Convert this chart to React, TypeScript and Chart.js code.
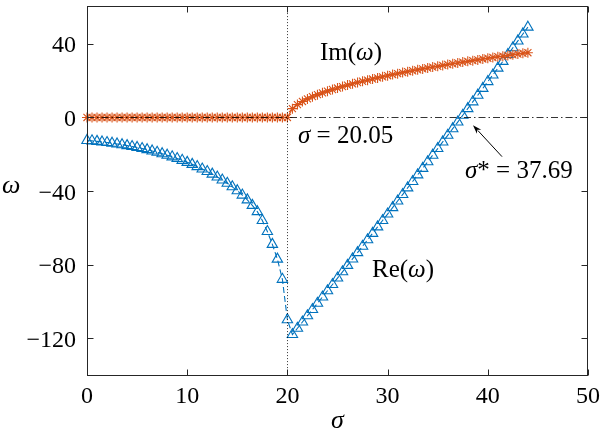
import React, { useEffect, useRef } from "react";
import { Chart, registerables } from "chart.js";

Chart.register(...registerables);

// ---- data ----
const SIGMA = [
  0, 0.5, 1, 1.5, 2, 2.5, 3, 3.5, 4, 4.5, 5, 5.5, 6, 6.5, 7, 7.5, 8, 8.5, 9, 9.5,
  10, 10.5, 11, 11.5, 12, 12.5, 13, 13.5, 14, 14.5, 15, 15.5, 16, 16.5, 17, 17.5, 18, 18.5, 19, 19.5,
  20, 20.5, 21, 21.5, 22, 22.5, 23, 23.5, 24, 24.5, 25, 25.5, 26, 26.5, 27, 27.5, 28, 28.5, 29, 29.5,
  30, 30.5, 31, 31.5, 32, 32.5, 33, 33.5, 34, 34.5, 35, 35.5, 36, 36.5, 37, 37.5, 38, 38.5, 39, 39.5,
  40, 40.5, 41, 41.5, 42, 42.5, 43, 43.5, 44,
];

const RE = [
  -12.5, -12.7, -13.0, -13.3, -13.6, -14.0, -14.4, -14.8, -15.3, -15.8,
  -16.3, -16.9, -17.5, -18.2, -18.9, -19.7, -20.5, -21.4, -22.3, -23.3,
  -24.4, -25.5, -26.7, -28.0, -29.4, -30.8, -32.4, -34.0, -35.8, -37.7,
  -39.8, -42.2, -44.8, -47.8, -51.2, -56.0, -62.0, -69.0, -77.0, -88.0,
  -110.0,
  -118.0, -114.6, -111.2, -107.8, -104.4, -101.0, -97.6, -94.2, -90.8, -87.3,
  -83.9, -80.4, -76.9, -73.5, -70.0, -66.5, -63.0, -59.5, -56.0, -52.5,
  -49.0, -45.4, -41.9, -38.3, -34.8, -31.2, -27.7, -24.1, -20.5, -16.9,
  -13.3, -9.7, -6.1, -2.5, 1.2, 4.8, 8.5, 12.1, 15.8, 19.5,
  23.1, 26.8, 30.5, 34.2, 37.9, 41.6, 45.4, 49.1,
];

const IM = [
  0, 0, 0, 0, 0, 0, 0, 0, 0, 0,
  0, 0, 0, 0, 0, 0, 0, 0, 0, 0,
  0, 0, 0, 0, 0, 0, 0, 0, 0, 0,
  0, 0, 0, 0, 0, 0, 0, 0, 0, 0,
  0,
  4.8, 7.0, 8.7, 10.1, 11.3, 12.4, 13.4, 14.3, 15.2, 16.0,
  16.8, 17.6, 18.3, 19.0, 19.7, 20.3, 20.9, 21.5, 22.1, 22.7,
  23.3, 23.8, 24.4, 24.9, 25.4, 25.9, 26.4, 26.9, 27.4, 27.8,
  28.3, 28.8, 29.2, 29.6, 30.1, 30.5, 30.9, 31.3, 31.8, 32.2,
  32.6, 33.0, 33.3, 33.7, 34.1, 34.5, 34.9, 35.2,
];

const X_TICKS = [0, 10, 20, 30, 40, 50];
const Y_TICKS = [-120, -80, -40, 0, 40];
const SIGMA_C = 20.05;
const SIGMA_STAR = 37.69;

// ---- styles ----
const BLUE = "#0072BD";
const ORANGE = "#D95319";
const AXIS = "#262626";
const FONT = '"Liberation Serif", "Times New Roman", serif';

type Run = [string, boolean];

function drawRuns(ctx: CanvasRenderingContext2D, runs: Run[], x: number, y: number, size: number, align = "left") {
  let total = 0;
  for (const [t, it] of runs) {
    ctx.font = `${it ? "italic " : ""}${size}px ${FONT}`;
    total += ctx.measureText(t).width;
  }
  let cx = align === "center" ? x - total / 2 : align === "right" ? x - total : x;
  ctx.textAlign = "left";
  ctx.textBaseline = "alphabetic";
  for (const [t, it] of runs) {
    ctx.font = `${it ? "italic " : ""}${size}px ${FONT}`;
    ctx.fillText(t, cx, y);
    cx += ctx.measureText(t).width;
  }
}

const fmt = (v: number) => (v < 0 ? "\u2212" + Math.abs(v) : String(v));

const decorPlugin = {
  id: "decor",
  afterDatasetsDraw(chart: any) {
    const ctx: CanvasRenderingContext2D = chart.ctx;
    const xs = chart.scales.x;
    const ys = chart.scales.y;
    const a = chart.chartArea;
    ctx.save();
    ctx.strokeStyle = "#000";
    ctx.lineWidth = 0.8;
    ctx.setLineDash([7, 3, 1.5, 3]);
    const y0 = Math.round(ys.getPixelForValue(0)) + 0.5;
    ctx.beginPath();
    ctx.moveTo(a.left, y0);
    ctx.lineTo(a.right, y0);
    ctx.stroke();
    ctx.setLineDash([1, 2]);
    const xc = Math.round(xs.getPixelForValue(SIGMA_C)) - 0.5;
    ctx.beginPath();
    ctx.moveTo(xc, a.top);
    ctx.lineTo(xc, a.bottom);
    ctx.stroke();
    ctx.restore();
  },
  afterDraw(chart: any) {
    const ctx: CanvasRenderingContext2D = chart.ctx;
    const xs = chart.scales.x;
    const ys = chart.scales.y;
    const a = chart.chartArea;
    const L = Math.round(a.left) + 0.5;
    const R = Math.round(a.right) - 0.5;
    const T = Math.round(a.top) - 0.5;
    const B = Math.round(a.bottom) + 0.5;
    ctx.save();
    ctx.strokeStyle = AXIS;
    ctx.lineWidth = 1;
    ctx.setLineDash([]);
    ctx.strokeRect(L, T, R - L, B - T);
    const TL = 6;
    ctx.beginPath();
    for (const v of X_TICKS) {
      const px = Math.round(xs.getPixelForValue(v)) + 0.5;
      ctx.moveTo(px, B);
      ctx.lineTo(px, B - TL);
      ctx.moveTo(px, T);
      ctx.lineTo(px, T + TL);
    }
    for (const v of Y_TICKS) {
      const py = Math.round(ys.getPixelForValue(v)) + 0.5;
      ctx.moveTo(L, py);
      ctx.lineTo(L + TL, py);
      ctx.moveTo(R, py);
      ctx.lineTo(R - TL, py);
    }
    ctx.stroke();

    ctx.fillStyle = "#000";
    ctx.font = `24px ${FONT}`;
    ctx.textBaseline = "alphabetic";
    ctx.textAlign = "center";
    for (const v of X_TICKS) {
      ctx.fillText(fmt(v), xs.getPixelForValue(v), a.bottom + 28);
    }
    ctx.textAlign = "right";
    for (const v of Y_TICKS) {
      ctx.fillText(fmt(v), a.left - 11, ys.getPixelForValue(v) + 8.5);
    }

    drawRuns(ctx, [["\u03C3", true]], (a.left + a.right) / 2, a.bottom + 53, 26, "center");
    drawRuns(ctx, [["\u03C9", true]], 2, 193, 26, "left");

    drawRuns(ctx, [["Im(", false], ["\u03C9", true], [")", false]], xs.getPixelForValue(23.25), ys.getPixelForValue(31.1), 25);
    drawRuns(ctx, [["\u03C3", true], [" = " + SIGMA_C.toFixed(2), false]], xs.getPixelForValue(21.06), ys.getPixelForValue(-13.8), 25);
    drawRuns(ctx, [["\u03C3", true], ["* = " + SIGMA_STAR.toFixed(2), false]], xs.getPixelForValue(37.72), ys.getPixelForValue(-33.0), 25);
    drawRuns(ctx, [["Re(", false], ["\u03C9", true], [")", false]], xs.getPixelForValue(28.44), ys.getPixelForValue(-86.5), 25);

    const x1 = xs.getPixelForValue(41.42), y1 = ys.getPixelForValue(-21.3);
    const x2 = xs.getPixelForValue(38.52), y2 = ys.getPixelForValue(-4.2);
    const ang = Math.atan2(y2 - y1, x2 - x1);
    const hl = 9, hw = 3;
    ctx.strokeStyle = "#000";
    ctx.lineWidth = 1;
    ctx.beginPath();
    ctx.moveTo(x1, y1);
    ctx.lineTo(x2 - Math.cos(ang) * hl * 0.8, y2 - Math.sin(ang) * hl * 0.8);
    ctx.stroke();
    ctx.fillStyle = "#000";
    ctx.beginPath();
    ctx.moveTo(x2, y2);
    ctx.lineTo(x2 - Math.cos(ang) * hl - Math.sin(ang) * hw, y2 - Math.sin(ang) * hl + Math.cos(ang) * hw);
    ctx.lineTo(x2 - Math.cos(ang) * hl * 0.7, y2 - Math.sin(ang) * hl * 0.7);
    ctx.lineTo(x2 - Math.cos(ang) * hl + Math.sin(ang) * hw, y2 - Math.sin(ang) * hl - Math.cos(ang) * hw);
    ctx.closePath();
    ctx.fill();
    ctx.restore();
  },
};

export default function App() {
  const ref = useRef<HTMLCanvasElement | null>(null);
  useEffect(() => {
    if (!ref.current) return;
    const chart = new Chart(ref.current, {
      type: "line",
      data: {
        datasets: [
          {
            label: "Im",
            data: SIGMA.map((s, i) => ({ x: s, y: IM[i] })),
            borderColor: ORANGE,
            backgroundColor: "rgba(0,0,0,0)",
            borderWidth: 1.2,
            pointStyle: "star",
            pointRadius: 5,
            pointBorderWidth: 1.1,
            pointBorderColor: ORANGE,
            pointBackgroundColor: "rgba(0,0,0,0)",
            tension: 0,
            clip: false as any,
            order: 1,
          },
          {
            label: "Re",
            data: SIGMA.map((s, i) => ({ x: s, y: RE[i] })),
            borderColor: BLUE,
            backgroundColor: "rgba(0,0,0,0)",
            borderWidth: 1.1,
            borderDash: [6, 3],
            pointStyle: "triangle",
            pointRadius: 6,
            pointBorderWidth: 1.1,
            pointBorderColor: BLUE,
            pointBackgroundColor: "rgba(0,0,0,0)",
            tension: 0,
            clip: false as any,
            order: 2,
          },
        ],
      },
      options: {
        responsive: false,
        animation: false,
        events: [],
        layout: { padding: { top: 1, right: 13, left: 0, bottom: 0 } },
        plugins: { legend: { display: false }, tooltip: { enabled: false } },
        scales: {
          x: {
            type: "linear",
            min: 0,
            max: 50,
            grid: { display: false },
            border: { display: false },
            ticks: { display: false },
            afterFit: (s: any) => { s.height = 61; },
          },
          y: {
            type: "linear",
            min: -140,
            max: 60,
            grid: { display: false },
            border: { display: false },
            ticks: { display: false },
            afterFit: (s: any) => { s.width = 87; },
          },
        },
      },
      plugins: [decorPlugin],
    });
    return () => chart.destroy();
  }, []);
  return (
    <canvas
      ref={ref}
      width={601}
      height={436}
      style={{ position: "absolute", left: 0, top: 0, width: 601, height: 436, background: "#fff" }}
    />
  );
}
